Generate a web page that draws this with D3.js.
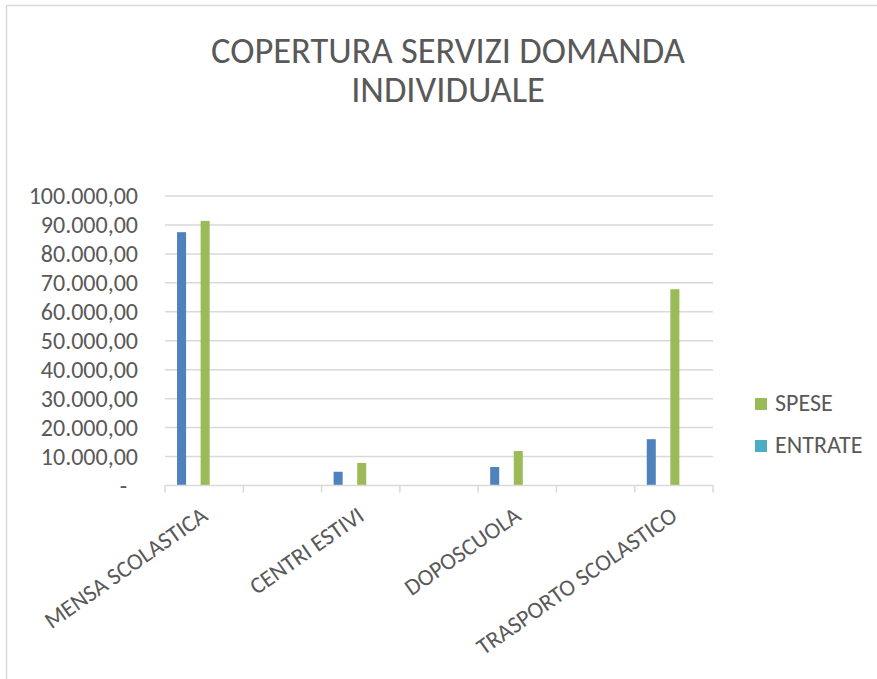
<!DOCTYPE html>
<html>
<head>
<meta charset="utf-8">
<script src="https://cdn.jsdelivr.net/npm/d3@7"></script>
<style>
  html, body { margin: 0; padding: 0; background: #ffffff; }
  svg { display: block; }
  text { font-family: Carlito, Lato, "Open Sans", sans-serif; fill: #595959; }
</style>
</head>
<body>
<svg id="chart" width="877" height="679"></svg>
<script>
// ---- data ----
const titleLines = ["COPERTURA SERVIZI DOMANDA", "INDIVIDUALE"];
// every other category label is hidden in the original (Excel skipped them)
const categories = ["MENSA SCOLASTICA", "", "CENTRI ESTIVI", "", "DOPOSCUOLA", "", "TRASPORTO SCOLASTICO"];
const seriesNames = ["", "SPESE", "ENTRATE"];          // first series is not in the legend
const seriesColors = ["#4F81BD", "#9BBB59", "#4BACC6"];
const blueValues    = [87500, null, 4750, null, 6400, null, 16000];
const speseValues   = [91400, null, 7800, null, 11900, null, 67800];
const entrateValues = [0, null, 0, null, 0, null, 0];
const yTicks = [0, 10000, 20000, 30000, 40000, 50000, 60000, 70000, 80000, 90000, 100000];
const legendSeries = [1, 2];

const seriesValues = [blueValues, speseValues, entrateValues];

// ---- layout ----
const svg = d3.select("#chart");
const plot = { left: 165, right: 713, top: 196, bottom: 485.5 };
const gridColor = "#D9D9D9";

// chart frame
svg.append("rect").attr("x", 6.5).attr("y", 5.5).attr("width", 900).attr("height", 700)
  .attr("fill", "none").attr("stroke", gridColor).attr("stroke-width", 1.5);

// title (one text element, two lines)
const title = svg.append("text").attr("text-anchor", "middle").attr("font-size", 36.5);
title.selectAll("tspan").data(titleLines).join("tspan")
  .attr("x", 448).attr("y", (d, i) => 63 + i * 39).text(d => d);

const x0 = d3.scaleBand().domain(d3.range(categories.length))
  .range([plot.left, plot.right]).padding(0);
const x1 = d3.scaleBand().domain(d3.range(seriesNames.length))
  .range([1, x0.bandwidth() + 1]).paddingInner(0.617).paddingOuter(0.468);
const y = d3.scaleLinear().domain([0, 100000]).range([plot.bottom, plot.top]);

// gridlines
svg.append("g").selectAll("line").data(yTicks.filter(v => v > 0)).join("line")
  .attr("x1", plot.left).attr("x2", plot.right)
  .attr("y1", d => y(d)).attr("y2", d => y(d))
  .attr("stroke", gridColor).attr("stroke-width", 1.5);

// y axis labels
const fmt = v => v === 0 ? "-" : d3.format(",.2f")(v).replace(/,/g, "#").replace(".", ",").replace(/#/g, ".");
const yAxis = d3.axisLeft(y).tickValues(yTicks).tickFormat(fmt).tickSize(0).tickPadding(0);
const gy = svg.append("g").attr("transform", `translate(138,0)`).call(yAxis);
gy.select(".domain").remove();
gy.selectAll("text").attr("font-size", 24).attr("fill", "#595959")
  .attr("font-family", "Carlito, Lato, sans-serif")
  .attr("dx", d => d === 0 ? -11 : 0);

// bars
const groups = svg.append("g").selectAll("g").data(categories.map((c, i) => i)).join("g")
  .attr("transform", i => `translate(${x0(i)},0)`);
groups.selectAll("rect")
  .data(i => seriesValues.map((s, k) => ({ k, v: s[i] })).filter(d => d.v != null && d.v > 0))
  .join("rect")
  .attr("x", d => x1(d.k)).attr("width", x1.bandwidth())
  .attr("y", d => y(d.v)).attr("height", d => y(0) - y(d.v))
  .attr("fill", d => seriesColors[d.k]);

// x axis
const xAxisG = svg.append("g");
xAxisG.append("line").attr("x1", plot.left).attr("x2", plot.right)
  .attr("y1", plot.bottom).attr("y2", plot.bottom)
  .attr("stroke", gridColor).attr("stroke-width", 1.5);
const boundaries = d3.range(categories.length + 1).map(i => i < categories.length ? x0(i) : plot.right);
xAxisG.selectAll("line.tk").data(boundaries).join("line").attr("class", "tk")
  .attr("x1", d => d).attr("x2", d => d)
  .attr("y1", plot.bottom).attr("y2", plot.bottom + 7)
  .attr("stroke", gridColor).attr("stroke-width", 1.5);

// category labels
xAxisG.selectAll("text").data(categories.map((c, i) => ({ c, i })).filter(d => d.c !== "")).join("text")
  .attr("transform", d => `translate(${x0(d.i) + x0.bandwidth() / 2 + 5},${plot.bottom + 33.5}) rotate(-35)`)
  .attr("text-anchor", "end").attr("font-size", 23.5).text(d => d.c);

// legend
const lg = svg.append("g").selectAll("g").data(legendSeries).join("g")
  .attr("transform", (d, i) => `translate(755,${398 + i * 42})`);
lg.append("rect").attr("width", 12).attr("height", 12).attr("fill", d => seriesColors[d]);
lg.append("text").attr("x", 20).attr("y", 13).attr("font-size", 24).text(d => seriesNames[d]);
</script>
</body>
</html>
